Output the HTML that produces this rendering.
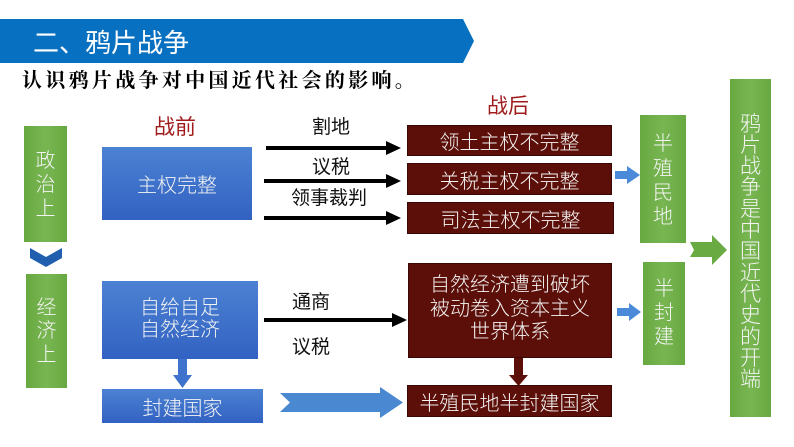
<!DOCTYPE html>
<html><head><meta charset="utf-8">
<style>
*{margin:0;padding:0;box-sizing:border-box}
body{width:794px;height:447px;background:#fff;position:relative;overflow:hidden;font-family:"Liberation Sans","Noto Sans CJK SC",sans-serif}
.a{position:absolute}
.box{position:absolute;display:flex;align-items:center;justify-content:center;text-align:center;color:#f4f4f4;font-size:20px;font-weight:300;font-family:"Liberation Sans","Noto Sans CJK SC",sans-serif}
.blue{background:linear-gradient(#4c82d3,#3262c2);}
.red{background:#5c0f08;border:1px solid #3a0804}
.green{background:linear-gradient(90deg,#68a840,#78b652 50%,#68a840);}
.v{flex-direction:column}
.lbl{position:absolute;font-size:19px;color:#111;font-family:"Liberation Sans","Noto Sans CJK SC",sans-serif;line-height:1}
</style></head><body>
<svg class="a" style="left:0;top:0" width="794" height="447">
  <polygon points="0,19 463,19 474,41 463,63 0,63" fill="#0870c0"/>
  <polygon points="30,248 46,257 62,248 62,258 46,267 30,258" fill="#1f5fae"/>
  <g fill="#000">
    <rect x="266" y="146" width="122" height="4"/><polygon points="386,141 401,148 386,155"/>
    <rect x="264" y="179" width="124" height="4"/><polygon points="386,174 401,181 386,188"/>
    <rect x="264" y="216" width="124" height="4"/><polygon points="386,211 401,218 386,225"/>
    <rect x="264" y="318" width="130" height="4"/><polygon points="392,313 407,320 392,327"/>
  </g>
  <polygon points="615,171 627,171 627,166 640,175 627,184 627,179 615,179" fill="#4a8ad8"/>
  <polygon points="617,308 629,308 629,303 641,312 629,321 629,316 617,316" fill="#4a8ad8"/>
  <polygon points="690,242 712,242 712,235 727,250 712,265 712,257 690,257 694,250" fill="#6aaa42"/>
  <polygon points="178,359 187,359 187,375 192,375 182.5,388 173,375 178,375" fill="#3f72cc"/>
  <polygon points="280,393 380,393 380,387 403,402.5 380,418 380,412 280,412 290,402.5" fill="#4a88d2"/>
  <polygon points="514,358 523,358 523,375 528,375 518.5,386 509,375 514,375" fill="#5c0f08"/>
</svg>

<div class="a" style="left:33px;top:26px;font-size:26px;color:#fff;line-height:34px;font-family:'Liberation Sans','Noto Sans CJK SC',sans-serif">二、鸦片战争</div>
<div class="a" style="left:22px;top:68px;font-size:20px;line-height:26px;font-weight:bold;letter-spacing:3.3px;color:#000;font-family:'Liberation Serif','Noto Serif CJK SC',serif">认识鸦片战争对中国近代社会的影响。</div>

<div class="a" style="left:154px;top:116px;font-size:21px;color:#a01c1c;line-height:24px">战前</div>
<div class="a" style="left:487px;top:95px;font-size:21px;color:#a01c1c;line-height:24px">战后</div>

<div class="box green v" style="left:24px;top:126px;width:43px;height:116px;line-height:24px;padding-top:2px">政<br>治<br>上</div>
<div class="box green v" style="left:26px;top:274px;width:41px;height:114px;line-height:23.5px;padding-top:2px">经<br>济<br>上</div>

<div class="box blue" style="left:102px;top:147px;width:150px;height:73px">主权完整</div>
<div class="box blue" style="left:102px;top:281px;width:156px;height:78px;line-height:22px;padding-bottom:2px">自给自足<br>自然经济</div>
<div class="box blue" style="left:102px;top:389px;width:161px;height:34px">封建国家</div>

<div class="lbl" style="left:312px;top:118px">割地</div>
<div class="lbl" style="left:312px;top:158px">议税</div>
<div class="lbl" style="left:291px;top:189px">领事裁判</div>
<div class="lbl" style="left:292px;top:293px">通商</div>
<div class="lbl" style="left:292px;top:338px">议税</div>

<div class="box red" style="left:407px;top:125px;width:205px;height:31px">领土主权不完整</div>
<div class="box red" style="left:407px;top:163px;width:205px;height:32px">关税主权不完整</div>
<div class="box red" style="left:407px;top:202px;width:207px;height:32px">司法主权不完整</div>
<div class="box red" style="left:408px;top:263px;width:204px;height:95px;line-height:23.5px;padding-bottom:2px">自然经济遭到破坏<br>被动卷入资本主义<br>世界体系</div>
<div class="box red" style="left:407px;top:385px;width:205px;height:32px">半殖民地半封建国家</div>

<div class="box green v" style="left:640px;top:115px;width:46px;height:128px;line-height:24.3px;padding-top:4px">半<br>殖<br>民<br>地</div>
<div class="box green v" style="left:643px;top:262px;width:42px;height:103px;line-height:24px;padding-bottom:2px">半<br>封<br>建</div>

<div class="box green v" style="left:730px;top:79px;width:41px;height:338px;font-size:21px;line-height:21.3px;padding-top:8px">鸦<br>片<br>战<br>争<br>是<br>中<br>国<br>近<br>代<br>史<br>的<br>开<br>端</div>
</body></html>
